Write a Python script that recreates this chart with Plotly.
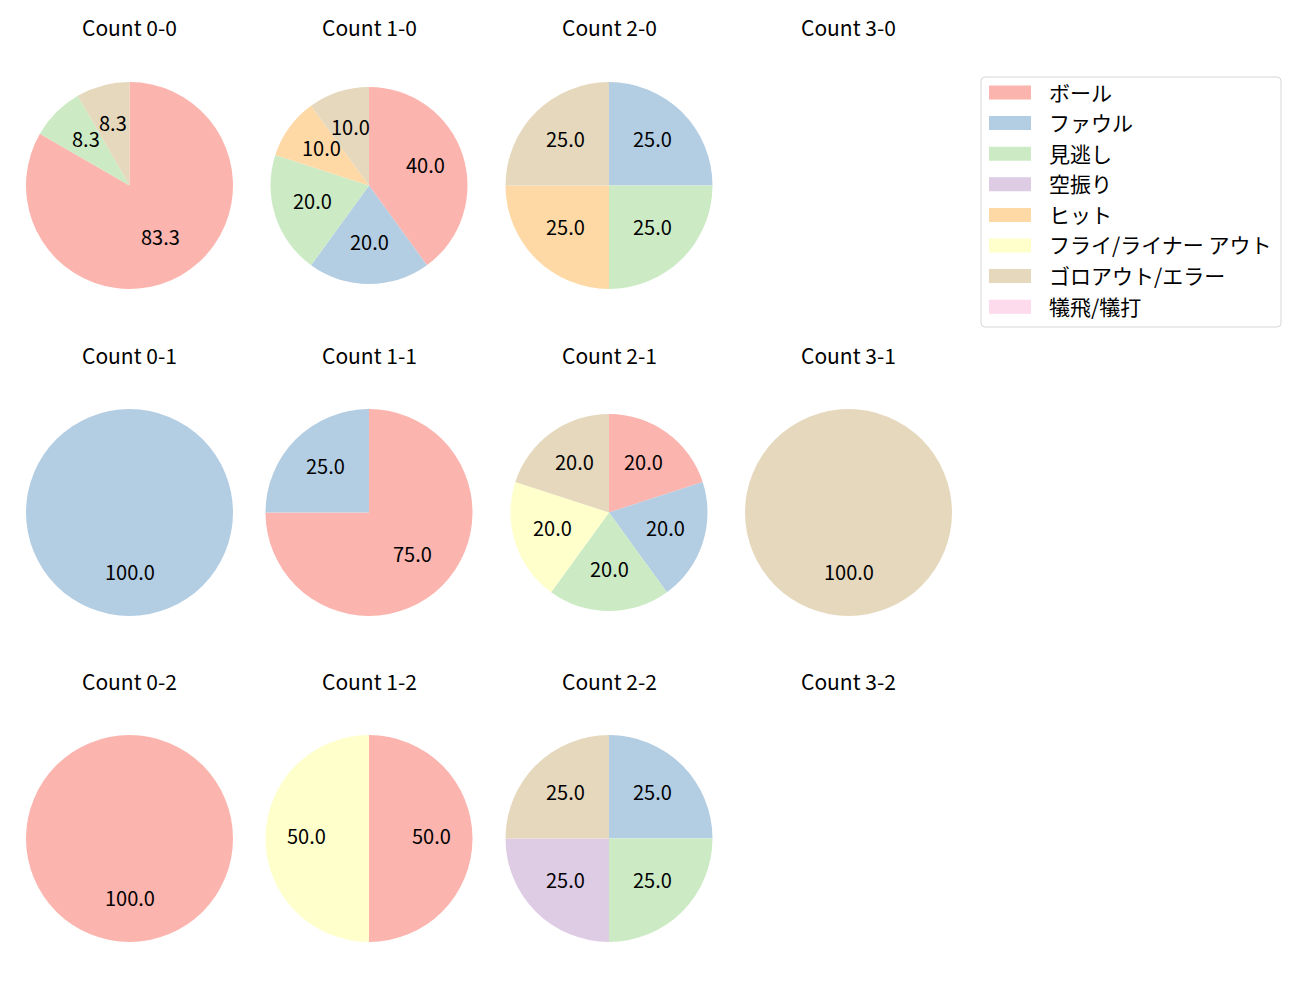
import math
import plotly.graph_objects as go

categories = ["ボール", "ファウル", "見逃し", "空振り", "ヒット",
              "フライ/ライナー アウト", "ゴロアウト/エラー", "犠飛/犠打"]
colors = ["#fbb4ae", "#b3cde3", "#ccebc5", "#decbe4", "#fed9a6",
          "#ffffcc", "#e5d8bd", "#fddaec"]

# pitch counts per panel, aligned with categories
count_0_0 = [10, 0, 1, 0, 0, 0, 1, 0]
count_1_0 = [4, 2, 2, 0, 1, 0, 1, 0]
count_2_0 = [0, 1, 1, 0, 1, 0, 1, 0]
count_3_0 = [0, 0, 0, 0, 0, 0, 0, 0]
count_0_1 = [0, 1, 0, 0, 0, 0, 0, 0]
count_1_1 = [3, 1, 0, 0, 0, 0, 0, 0]
count_2_1 = [1, 1, 1, 0, 0, 1, 1, 0]
count_3_1 = [0, 0, 0, 0, 0, 0, 1, 0]
count_0_2 = [1, 0, 0, 0, 0, 0, 0, 0]
count_1_2 = [1, 0, 0, 0, 0, 1, 0, 0]
count_2_2 = [0, 1, 1, 1, 0, 0, 1, 0]
count_3_2 = [0, 0, 0, 0, 0, 0, 0, 0]

panels = [
    ("Count 0-0", count_0_0), ("Count 1-0", count_1_0), ("Count 2-0", count_2_0), ("Count 3-0", count_3_0),
    ("Count 0-1", count_0_1), ("Count 1-1", count_1_1), ("Count 2-1", count_2_1), ("Count 3-1", count_3_1),
    ("Count 0-2", count_0_2), ("Count 1-2", count_1_2), ("Count 2-2", count_2_2), ("Count 3-2", count_3_2),
]

# ---- layout (pixels) ----
W, H = 1300, 1000
col_x = [129.5, 369, 609, 848.5]
row_y = [185.5, 512.5, 838.5]
R_default = 103.5
R_small = {"Count 1-0": 98.5, "Count 2-1": 98.5}
title_offset = 158
label_shift = -3
FONT = "Noto Sans CJK JP"
title_size = 21
label_size = 20
legend_size = 21

def px(x):
    return x / W

def py(y):
    return 1 - y / H

fig = go.Figure()
annotations = []
shapes = []

for i, (title, vals) in enumerate(panels):
    r, c = divmod(i, 4)
    cx, cy = col_x[c], row_y[r]
    R = R_small.get(title, R_default)
    annotations.append(dict(x=px(cx), y=py(cy - title_offset), text=title, showarrow=False,
                            xref="paper", yref="paper", xanchor="center", yanchor="middle",
                            font=dict(size=title_size, color="#000000", family=FONT)))
    labs = [categories[k] for k in range(len(categories)) if vals[k] > 0]
    vs = [vals[k] for k in range(len(categories)) if vals[k] > 0]
    cols = [colors[k] for k in range(len(categories)) if vals[k] > 0]
    if not vs:
        continue
    fig.add_trace(go.Pie(
        labels=labs, values=vs, sort=False, direction="clockwise", rotation=0,
        marker=dict(colors=cols, line=dict(width=0)), textinfo="none",
        hoverinfo="label+percent", showlegend=False,
        domain=dict(x=[px(cx - R), px(cx + R)], y=[py(cy + R), py(cy - R)]),
    ))
    total = sum(vs)
    cum = 0.0
    for v in vs:
        mid = (cum + v / 2) / total * 2 * math.pi
        cum += v
        lx = cx + 0.6 * R * math.sin(mid)
        ly = cy - 0.6 * R * math.cos(mid) + label_shift
        annotations.append(dict(x=px(lx), y=py(ly), text=f"{v / total * 100:.1f}", showarrow=False,
                                xref="paper", yref="paper", xanchor="center", yanchor="middle",
                                font=dict(size=label_size, color="#000000", family=FONT)))

# ---- legend ----
lx0, ly0, lx1, ly1 = 981, 77, 1281, 327
rad = 4
path = (f"M {px(lx0+rad)},{py(ly0)} L {px(lx1-rad)},{py(ly0)} "
        f"Q {px(lx1)},{py(ly0)} {px(lx1)},{py(ly0+rad)} L {px(lx1)},{py(ly1-rad)} "
        f"Q {px(lx1)},{py(ly1)} {px(lx1-rad)},{py(ly1)} L {px(lx0+rad)},{py(ly1)} "
        f"Q {px(lx0)},{py(ly1)} {px(lx0)},{py(ly1-rad)} L {px(lx0)},{py(ly0+rad)} "
        f"Q {px(lx0)},{py(ly0)} {px(lx0+rad)},{py(ly0)} Z")
shapes.append(dict(type="path", path=path, xref="paper", yref="paper",
                   line=dict(color="#d6d6d6", width=1), fillcolor="rgba(255,255,255,0.8)"))
row0, row_step = 92.5, 30.6
for k, (name, col) in enumerate(zip(categories, colors)):
    yc = row0 + k * row_step
    shapes.append(dict(type="rect", xref="paper", yref="paper",
                       x0=px(989), x1=px(1031), y0=py(yc - 7), y1=py(yc + 7),
                       fillcolor=col, line=dict(width=0)))
    annotations.append(dict(x=px(1047), y=py(yc - 1), text=name, showarrow=False,
                            xref="paper", yref="paper", xanchor="left", yanchor="middle",
                            font=dict(size=legend_size, color="#000000", family=FONT)))

fig.update_layout(width=W, height=H, margin=dict(l=0, r=0, t=0, b=0),
                  paper_bgcolor="white", plot_bgcolor="white",
                  annotations=annotations, shapes=shapes,
                  font=dict(family=FONT))
fig.write_html("out.html")
